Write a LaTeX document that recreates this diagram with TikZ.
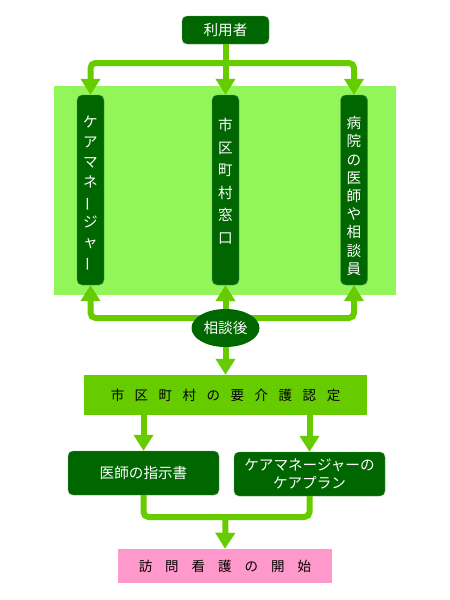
\documentclass[tikz,border=0pt]{standalone}
\usepackage{fontspec}
\newfontfamily\jp{Noto Sans CJK JP}
\usepackage{graphicx}
\usetikzlibrary{positioning,arrows.meta,calc,shapes.geometric}
\definecolor{darkleaf}{HTML}{006600}
\definecolor{leafgreen}{HTML}{66CC00}
\definecolor{paleleaf}{HTML}{92F55A}
\definecolor{softpink}{HTML}{FF99CC}
\newcommand{\vbar}{\rotatebox[origin=c]{90}{ー}}
\newcommand{\kgap}{\hspace{10.5pt}}
\newcommand{\wgap}{\hspace{13pt}}

\begin{document}
\begin{tikzpicture}[x=1pt,y=-1pt,
    flow/.style={leafgreen, line width=6pt, rounded corners=5pt, -{Triangle[width=19pt,length=16pt]}},
    link/.style={leafgreen, line width=6pt, rounded corners=5pt},
    darkbox/.style={fill=darkleaf, draw=darkleaf!65!white, rounded corners=5pt, inner sep=0pt,
        text=white, font=\jp\fontsize{14.6}{18}\selectfont, align=center},
    colbox/.style={darkbox, minimum width=27pt, minimum height=190pt},
    coltext/.style={text=white, inner sep=0pt, align=center}]

    \useasboundingbox (0,0) rectangle (450,600);

    % Background band behind the three contacts
    \fill[paleleaf] (54,86) rectangle (396,295);

    % Nodes
    \node[darkbox, minimum width=87pt, minimum height=28pt] (user) at (225.5,30) {利用者};
    \node[colbox] (cm) at (90.5,190) {};
    \node[colbox] (office) at (225.5,190) {};
    \node[colbox] (hosp) at (354,190) {};
    \node[coltext, font=\jp\fontsize{14.6}{20}\selectfont] (cmtext) at (90.5,194)
        {ケ\\ア\\マ\\ネ\\\vbar\\ジ\\ャ\\\vbar};
    \node[coltext, font=\jp\fontsize{14.6}{22.5}\selectfont] (officetext) at (225.5,181)
        {市\\区\\町\\村\\窓\\口};
    \node[coltext, font=\jp\fontsize{14.6}{18.2}\selectfont] (hosptext) at (354,196)
        {病\\院\\の\\医\\師\\や\\相\\談\\員};

    \node[fill=leafgreen, minimum width=283pt, minimum height=40pt, inner sep=0pt,
        font=\jp\fontsize{13.5}{15}\selectfont] (cert) at (225.5,395)
        {市\kgap 区\kgap 町\kgap 村\kgap の\kgap 要\kgap 介\kgap 護\kgap 認\kgap 定};
    \node[darkbox, minimum width=151pt, minimum height=44pt] (order) at (143.5,473) {医師の指示書};
    \node[darkbox, minimum width=151pt, minimum height=44pt] (plan) at (309.5,474)
        {ケアマネージャーの\\ケアプラン};
    \node[fill=softpink, minimum width=214pt, minimum height=34pt, inner sep=0pt,
        font=\jp\fontsize{13.5}{15}\selectfont] (start) at (225,566)
        {訪\wgap 問\wgap 看\wgap 護\wgap の\wgap 開\wgap 始};

    % Branch points
    \coordinate (split) at (225.5,63);
    \coordinate (join) at (225.5,318);
    \coordinate (merge) at (225.5,517);

    % From the user to the three contacts
    \draw[flow] (user.south) -- (office.north);
    \draw[flow] (split) -| (cm.north);
    \draw[flow] (split) -| (hosp.north);

    % After consultation
    \draw[flow] (join) -| (cm.south);
    \draw[flow] (join) -| (hosp.south);
    \draw[flow] (join) -- (office.south);
    \node[ellipse, fill=darkleaf, minimum width=68pt, minimum height=38pt, inner sep=0pt,
        text=white, font=\jp\fontsize{14.6}{16}\selectfont] (talk) at (225.5,328) {相談後};
    \draw[flow] (talk.south) -- (cert.north);

    % Certification to the two documents
    \draw[flow] (cert.south -| order.north) -- (order.north);
    \draw[flow] (cert.south -| plan.north) -- (plan.north);

    % Documents to the start of visiting care
    \draw[link] (order.south) |- (merge) -| (plan.south);
    \draw[flow] (merge) -- (start.north);

\end{tikzpicture}
\end{document}
